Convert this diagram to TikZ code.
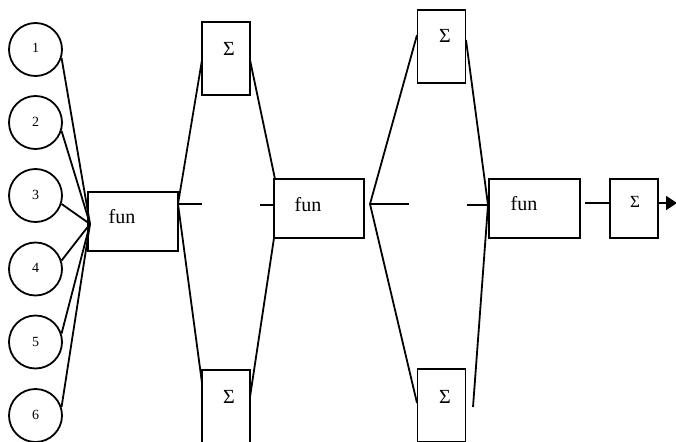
\documentclass[tikz,border=0pt]{standalone}
\usepackage{fontspec}
\setmainfont{Liberation Serif}
\usetikzlibrary{arrows.meta}
\begin{document}
\begin{tikzpicture}[x=1pt,y=-1pt,line width=1.8pt,
  inp/.style={circle,draw,minimum size=53pt,inner sep=0pt},
  box/.style={rectangle,draw,inner sep=0pt},
  funbox/.style={box,minimum width=90pt,minimum height=59pt},
  sumbox/.style={box,minimum width=48pt,minimum height=73pt},
  numtxt/.style={anchor=base,inner sep=0pt,font=\fontsize{14}{16}\selectfont},
  funtxt/.style={anchor=base,inner sep=0pt,font=\fontsize{20}{24}\selectfont},
  sumtxt/.style={anchor=base,inner sep=0pt,font=\fontsize{20}{24}\selectfont},
  wire/.style={line width=1.8pt}]
\useasboundingbox (0,0) rectangle (676,441);
\clip (0,0) rectangle (676,441);
% input circles
\foreach \i/\y/\b in {1/49.5/53,2/122.5/126,3/195.5/199,4/269/272,5/342/346,6/415.5/419}{
  \node[inp] (c\i) at (35.5,\y) {};
  \node[numtxt] (t\i) at (35.5,\b) {\i};
}
% boxes
\node[funbox] (f1) at (133,221.5) {};
\node[funtxt] (ft1) at (122,223) {fun};
\node[sumbox] (s1) at (226,58.5) {};
\node[sumtxt] (st1) at (229,56) {Σ};
\node[sumbox] (s2) at (226,406.5) {};
\node[sumtxt] (st2) at (229,403) {Σ};
\node[funbox] (f2) at (319,208.5) {};
\node[funtxt] (ft2) at (308,211) {fun};
\node[sumbox] (s3) at (441.5,46.5) {};
\node[sumtxt] (st3) at (445,43) {Σ};
\node[sumbox] (s4) at (441.5,405.5) {};
\node[sumtxt] (st4) at (445,403) {Σ};
\node[funbox,minimum width=91pt] (f3) at (534.5,208.5) {};
\node[funtxt] (ft3) at (524,210) {fun};
\node[box,minimum width=48pt,minimum height=59pt] (s5) at (634,208.5) {};
\node[sumtxt,font=\fontsize{17}{20}\selectfont] (st5) at (635,207.5) {Σ};
% connection points
\coordinate (conv) at (90,224);
\coordinate (p1) at (178,204);
\coordinate (h1) at (202,204);
\coordinate (s1l) at (202,60);
\coordinate (s2l) at (202,383);
\coordinate (s1r) at (250,60);
\coordinate (s2r) at (250,397);
\coordinate (f2t) at (275,179);
\coordinate (f2b) at (274,238);
\coordinate (h2a) at (260,205);
\coordinate (h2b) at (274,205);
\coordinate (p2) at (370,204);
\coordinate (h3) at (409,204);
\coordinate (s3l) at (417,35);
\coordinate (s4l) at (417,403);
\coordinate (s3r) at (466,40);
\coordinate (p3) at (488,205);
\coordinate (h4) at (467,205);
\coordinate (fe) at (473,407);
\coordinate (f3o) at (585,203);
\coordinate (s5i) at (610,203);
\coordinate (s5o) at (658,203);
\coordinate (out) at (677,203);
% wires
\foreach \i in {1,2,3}{\draw[wire] (c\i.-18) -- (conv);}
\foreach \i in {4,5,6}{\draw[wire] (c\i.18) -- (conv);}
\draw[wire] (p1) -- (s1l);
\draw[wire] (p1) -- (h1);
\draw[wire] (p1) -- (s2l);
\draw[wire] (s1r) -- (f2t);
\draw[wire] (h2a) -- (h2b);
\draw[wire] (f2b) -- (s2r);
\draw[wire] (p2) -- (s3l);
\draw[wire] (p2) -- (h3);
\draw[wire] (p2) -- (s4l);
\draw[wire] (s3r) -- (p3);
\draw[wire] (h4) -- (p3);
\draw[wire] (p3) -- (fe);
\draw[wire] (f3o) -- (s5i);
\draw[wire,-{Triangle[length=11pt,width=14pt]}] (s5o) -- (out);
\end{tikzpicture}
\end{document}
